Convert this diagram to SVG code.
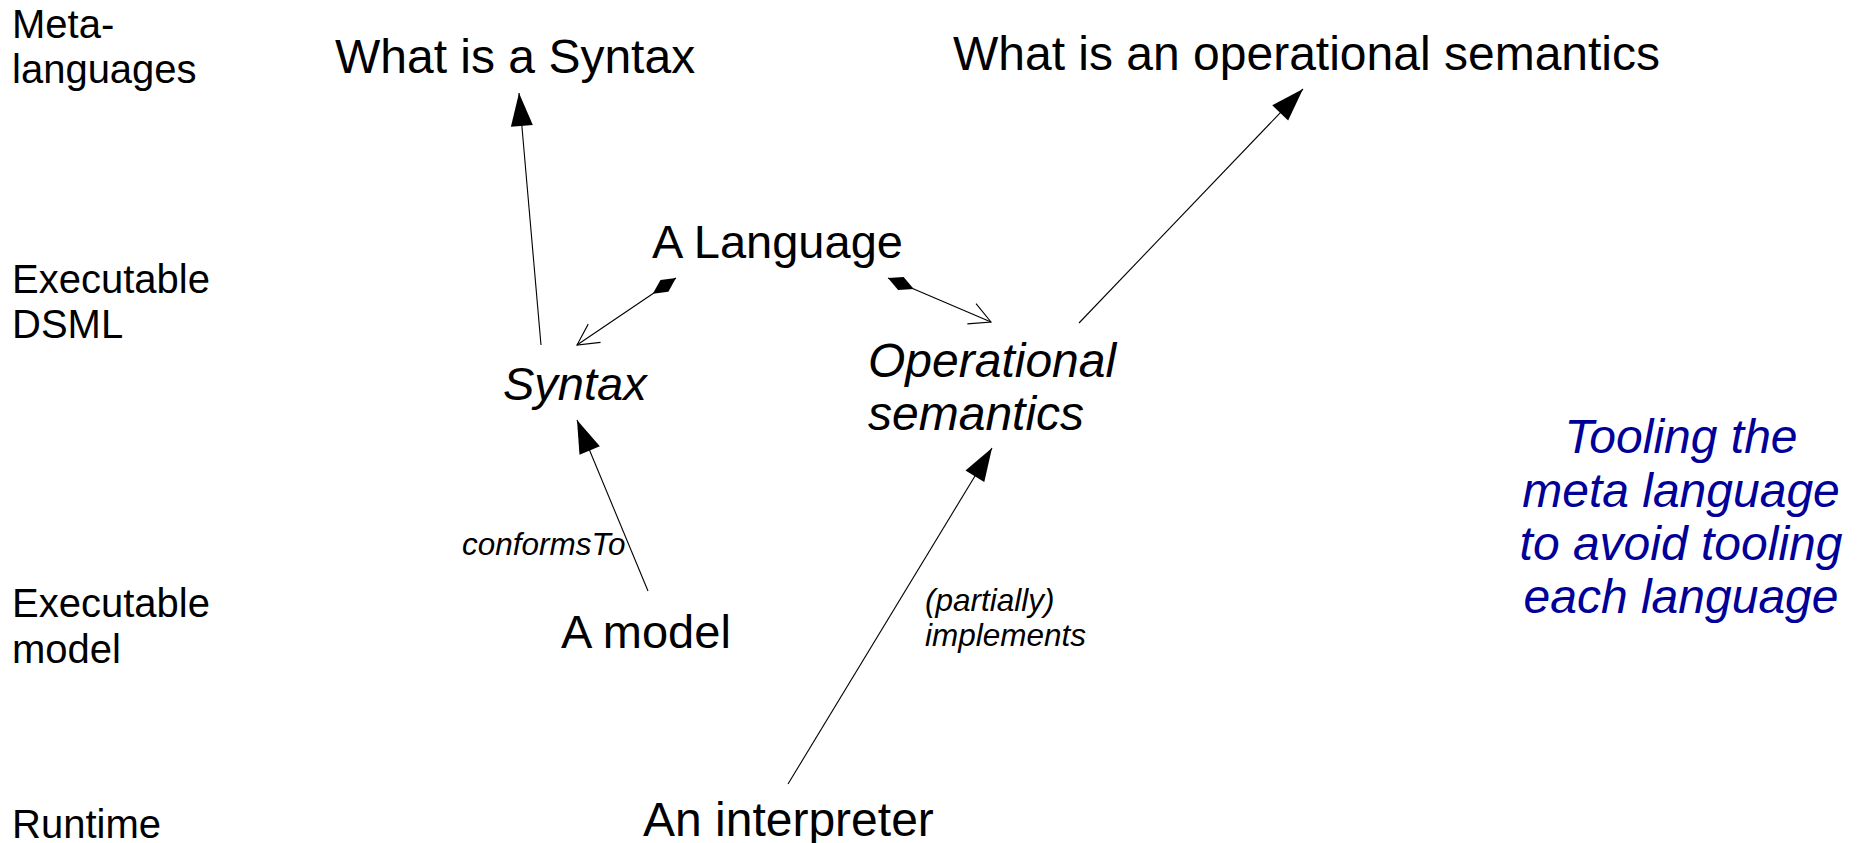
<svg xmlns="http://www.w3.org/2000/svg" width="1860" height="843" viewBox="0 0 1860 843">
<style>
text{font-family:"Liberation Sans",Arial,sans-serif;fill:#000}
.lvl{font-size:40px}
.big{font-size:48px}
.it{font-style:italic}
.lbl{font-size:31.5px;font-style:italic}
.note{font-size:48px;font-style:italic;fill:#000099;text-anchor:middle}
.ln{stroke:#000;stroke-width:1.1;fill:none}
</style>
<defs>
<marker id="fill" markerUnits="userSpaceOnUse" viewBox="-34 -12 36 24" refX="0" refY="0" markerWidth="36" markerHeight="24" orient="auto">
<path d="M0,0 L-33,-11 L-33,11 z" fill="#000"/>
</marker>
<marker id="open" markerUnits="userSpaceOnUse" viewBox="-24 -13 26 26" refX="0" refY="0" markerWidth="26" markerHeight="26" orient="auto">
<path d="M-21,-11 L0,0 L-21,11" fill="none" stroke="#000" stroke-width="1.1"/>
</marker>
<marker id="dia" markerUnits="userSpaceOnUse" viewBox="-1 -8 30 16" refX="0" refY="0" markerWidth="30" markerHeight="16" orient="auto">
<path d="M0,0 L14,-7 L28,0 L14,7 z" fill="#000"/>
</marker>
</defs>

<g id="levels">
<text class="lvl" x="12" y="38">Meta-</text>
<text class="lvl" x="12" y="83">languages</text>
<text class="lvl" x="12" y="293">Executable</text>
<text class="lvl" x="12" y="338">DSML</text>
<text class="lvl" x="12" y="617">Executable</text>
<text class="lvl" x="12" y="663">model</text>
<text class="lvl" x="12" y="838">Runtime</text>
</g>

<g id="connectors">
<line class="ln" x1="541" y1="345" x2="519" y2="93" marker-end="url(#fill)"/>
<line class="ln" x1="1079" y1="323" x2="1303" y2="89" marker-end="url(#fill)"/>
<line class="ln" x1="676" y1="278" x2="577" y2="345" marker-start="url(#dia)" marker-end="url(#open)"/>
<line class="ln" x1="888" y1="278" x2="991" y2="322" marker-start="url(#dia)" marker-end="url(#open)"/>
<line class="ln" x1="648" y1="591" x2="577" y2="420" marker-end="url(#fill)"/>
<line class="ln" x1="788" y1="784" x2="992" y2="448" marker-end="url(#fill)"/>
<text class="lbl" x="462" y="555">conformsTo</text>
<text class="lbl" x="925" y="611">(partially)</text>
<text class="lbl" x="925" y="646">implements</text>
</g>

<g id="what-syntax"><text class="big" x="335" y="73">What is a Syntax</text></g>
<g id="what-opsem"><text class="big" x="953" y="70">What is an operational semantics</text></g>
<g id="language"><text class="big" x="652" y="258" style="font-size:47px">A Language</text></g>
<g id="syntax"><text class="big it" x="503" y="400" style="font-size:47px">Syntax</text></g>
<g id="opsem">
<text class="big it" x="868" y="377">Operational</text>
<text class="big it" x="868" y="430">semantics</text>
</g>
<g id="model"><text class="big" x="561" y="648" style="font-size:47px">A model</text></g>
<g id="interpreter"><text class="big" x="643" y="836">An interpreter</text></g>
<g id="note">
<text class="note" x="1681" y="453">Tooling the</text>
<text class="note" x="1681" y="507">meta language</text>
<text class="note" x="1681" y="560">to avoid tooling</text>
<text class="note" x="1681" y="613">each language</text>
</g>
</svg>
